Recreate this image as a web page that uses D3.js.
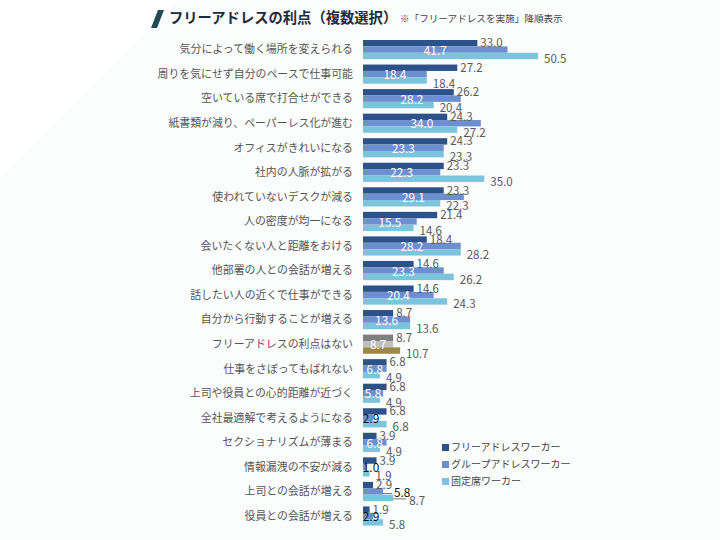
<!DOCTYPE html>
<html><head><meta charset="utf-8">
<script src="https://cdn.jsdelivr.net/npm/d3@7/dist/d3.min.js"></script>
<style>
html,body{margin:0;padding:0;background:#fff;}
svg{display:block;font-family:"Noto Sans CJK JP","Noto Sans",sans-serif;}
</style></head>
<body>
<svg id="chart" width="720" height="540"></svg>
<script>
const categories = ["気分によって働く場所を変えられる","周りを気にせず自分のペースで仕事可能","空いている席で打合せができる","紙書類が減り、ペーパーレス化が進む","オフィスがきれいになる","社内の人脈が拡がる","使われていないデスクが減る","人の密度が均一になる","会いたくない人と距離をおける","他部署の人との会話が増える","話したい人の近くで仕事ができる","自分から行動することが増える","フリーアドレスの利点はない","仕事をさぼってもばれない","上司や役員との心的距離が近づく","全社最適解で考えるようになる","セクショナリズムが薄まる","情報漏洩の不安が減る","上司との会話が増える","役員との会話が増える"];
const seriesNames = ["フリーアドレスワーカー","グループアドレスワーカー","固定席ワーカー"];
const freeAddress = [33.0,27.2,26.2,24.3,24.3,23.3,23.3,21.4,18.4,14.6,14.6,8.7,8.7,6.8,6.8,6.8,3.9,3.9,2.9,1.9];
const groupAddress = [41.7,18.4,28.2,34.0,23.3,22.3,29.1,15.5,28.2,23.3,20.4,13.6,8.7,6.8,5.8,2.9,6.8,1.0,5.8,2.9];
const fixedSeat = [50.5,18.4,20.4,27.2,23.3,35.0,22.3,14.6,28.2,26.2,24.3,13.6,10.7,4.9,4.9,6.8,4.9,1.9,8.7,5.8];
const title = "フリーアドレスの利点（複数選択）";
const note = "※「フリーアドレスを実施」降順表示";

const colors = ["#2d5189","#6d8fd0","#7cc4dc"];
const noneColors = ["#7f7f7f","#bfbfbf","#9c8749"];
const noneCat = "フリーアドレスの利点はない";
const nudgeCat = "上司との会話が増える";

const svg = d3.select("#chart");
svg.append("polygon").attr("points","178,0 720,0 720,540 0,540 0,178").attr("fill","#fbfcfc");

svg.append("polygon").attr("points","158,10 164,10 157,28 151,28").attr("fill","#1d4c57");
svg.append("text").attr("x",169).attr("y",23).attr("font-size",14.3).attr("font-weight","bold")
  .attr("fill","#1e2b3c").text(title);
svg.append("text").attr("x",400).attr("y",22).attr("font-size",9.6).attr("fill","#444").text(note);

const x = d3.scaleLinear().domain([0,50.5]).range([363,538]);
const step = 24.55, y0 = 40 - step*0.11;
const y = d3.scaleBand().domain(categories).range([y0, y0 + step*categories.length])
  .paddingInner(0.22).paddingOuter(0.11);
const ySub = d3.scaleBand().domain([0,1,2]).range([0, y.bandwidth()]);

const rows = categories.map((c,i)=>({cat:c, vals:[freeAddress[i],groupAddress[i],fixedSeat[i]]}));

svg.append("g").selectAll("text").data(rows).join("text")
  .attr("x",353).attr("y",d=>y(d.cat)+y.bandwidth()/2).attr("dy","0.35em")
  .attr("text-anchor","end").attr("font-size",10.9).attr("fill","#555").text(d=>d.cat);

const fmt = d3.format(".1f");
const g = svg.append("g");
rows.forEach(r=>{
  const cols = r.cat===noneCat ? noneColors : colors;
  r.vals.forEach((v,k)=>{
    const by = y(r.cat)+ySub(k);
    const bh = ySub.bandwidth();
    g.append("rect").attr("x",x(0)).attr("y",by).attr("width",x(v)-x(0)).attr("height",bh)
      .attr("fill",cols[k]);
  });
});
rows.forEach(r=>{
  r.vals.forEach((v,k)=>{
    const by = y(r.cat)+ySub(k);
    const bh = ySub.bandwidth();
    const cy = by + bh/2;
    if(k===1){
      let lx = (x(0)+x(v))/2, fill = "#fff";
      if(v < 5){ fill="#111"; lx = Math.max(lx, x(0)+8); }
      if(r.cat===nudgeCat){
        fill="#111"; lx = x(v)+19;
        g.append("line").attr("x1",x(v)).attr("x2",x(v)+9).attr("y1",cy+2).attr("y2",cy+2)
          .attr("stroke","#555").attr("stroke-width",0.8);
      }
      g.append("text").attr("x",lx).attr("y",cy+1).attr("dy","0.35em").attr("text-anchor","middle")
        .attr("font-size",11.8).attr("fill",fill).text(fmt(v));
    } else if(k===0){
      g.append("text").attr("x",x(v)+3).attr("y",cy).attr("dy","0.35em")
        .attr("font-size",11.5).attr("fill","#595959").text(fmt(v));
    } else {
      let lx = x(v)+6;
      if(r.cat===nudgeCat){
        g.append("line").attr("x1",x(v)).attr("x2",x(v)+13).attr("y1",cy+1).attr("y2",cy+1)
          .attr("stroke","#555").attr("stroke-width",0.8);
        lx = x(v)+16;
      }
      g.append("text").attr("x",lx).attr("y",cy+3).attr("dy","0.35em")
        .attr("font-size",11.5).attr("fill","#595959").text(fmt(v));
    }
  });
});

const lg = svg.append("g").attr("transform","translate(442,444)");
seriesNames.forEach((s,i)=>{
  lg.append("rect").attr("x",0).attr("y",i*17).attr("width",7).attr("height",7).attr("fill",colors[i]);
  lg.append("text").attr("x",9).attr("y",i*17+3.5).attr("dy","0.35em").attr("font-size",10)
    .attr("fill","#444").text(s);
});
</script>
</body></html>
